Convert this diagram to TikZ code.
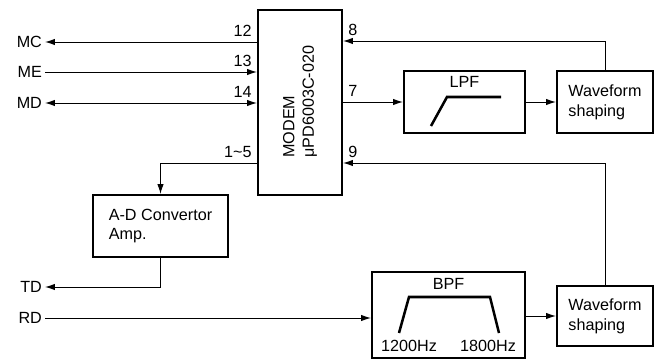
\documentclass[tikz,border=0pt]{standalone}
\usepackage{fontspec}
\setmainfont{Liberation Sans}
\usetikzlibrary{arrows.meta,positioning,calc}

\begin{document}
\begin{tikzpicture}[x=0.025cm, y=-0.025cm,
    blk/.style={draw, line width=1.4pt, inner sep=0pt},
    sig/.style={line width=0.7pt},
    tip/.style={-{Latex[length=7pt,width=4.5pt]}},
    both/.style={{Latex[length=7pt,width=4.5pt]}-{Latex[length=7pt,width=4.5pt]}},
    txt/.style={font=\fontsize{11.5}{14}\selectfont},
    pinlbl/.style={font=\fontsize{11.5}{14}\selectfont, inner sep=3.5pt}]
    \useasboundingbox (0,0) rectangle (659,360);

    % Blocks
    \node[blk, minimum width=2.1cm, minimum height=4.625cm] (modem) at (300,102.5) {};
    \node[txt, rotate=90, anchor=west, align=left, inner sep=0pt] (modemtxt) at (300,158)
        {MODEM\\μPD6003C-020};
    \node[blk, minimum width=3.025cm, minimum height=1.55cm] (lpf) at (464.5,102) {};
    \node[blk, txt, align=left, minimum width=2.4cm, minimum height=1.55cm] (wsa) at (605,102)
        {Waveform\\shaping};
    \node[blk, txt, align=left, minimum width=3.375cm, minimum height=1.55cm] (adc) at (160.5,226)
        {A-D Convertor\\Amp.};
    \node[blk, minimum width=3.825cm, minimum height=2.15cm] (bpf) at (448.5,315) {};
    \node[blk, txt, align=left, minimum width=2.4cm, minimum height=1.5cm] (wsb) at (605,316)
        {Waveform\\shaping};

    % Filter curves
    \node[txt] (lpflbl) at ($(lpf.north)+(0,12)$) {LPF};
    \draw[line width=1.8pt] (431,126) -- (447,97) -- (501,97);
    \node[txt] (bpflbl) at ($(bpf.north)+(0,13)$) {BPF};
    \draw[line width=1.8pt] (399,333) -- (409,297) -- (490,297) -- (499,333);
    \node[txt] (flo) at (409,346) {1200Hz};
    \node[txt] (fhi) at (488,346) {1800Hz};

    % Terminals
    \node[txt, anchor=east, inner sep=2pt] (mc) at (45,42) {MC};
    \node[txt, anchor=east, inner sep=2pt] (me) at (45,72) {ME};
    \node[txt, anchor=east, inner sep=2pt] (md) at (45,103) {MD};
    \node[txt, anchor=east, inner sep=2pt] (td) at (45,287) {TD};
    \node[txt, anchor=east, inner sep=2pt] (rd) at (45,318) {RD};

    % Pin points on the modem
    \coordinate (p15) at (modem.west |- 0,163);
    \coordinate (p8) at (modem.east |- 0,41);
    \coordinate (p9) at (modem.east |- 0,163);

    % Left side
    \draw[sig,tip] (modem.west |- mc) node[pinlbl, anchor=south east] {12} -- (mc);
    \draw[sig,tip] (me) -- (modem.west |- me) node[pinlbl, anchor=south east] {13};
    \draw[sig,both] (md) -- (modem.west |- md) node[pinlbl, anchor=south east] {14};
    \draw[sig,tip] (p15) node[pinlbl, anchor=south east] {1\textasciitilde 5} -| (adc.north);
    \draw[sig,tip] (adc.south) |- (td);
    \draw[sig,tip] (rd) -- (bpf.west |- rd);

    % Right side
    \draw[sig,tip] (modem.east |- lpf) node[pinlbl, anchor=south west] {7} -- (lpf);
    \draw[sig,tip] (lpf) -- (wsa);
    \draw[sig,tip] (wsa.north) |- (p8) node[pinlbl, anchor=south west] {8};
    \draw[sig,tip] (bpf.east |- wsb) -- (wsb);
    \draw[sig,tip] (wsb.north) |- (p9) node[pinlbl, anchor=south west] {9};
\end{tikzpicture}
\end{document}
